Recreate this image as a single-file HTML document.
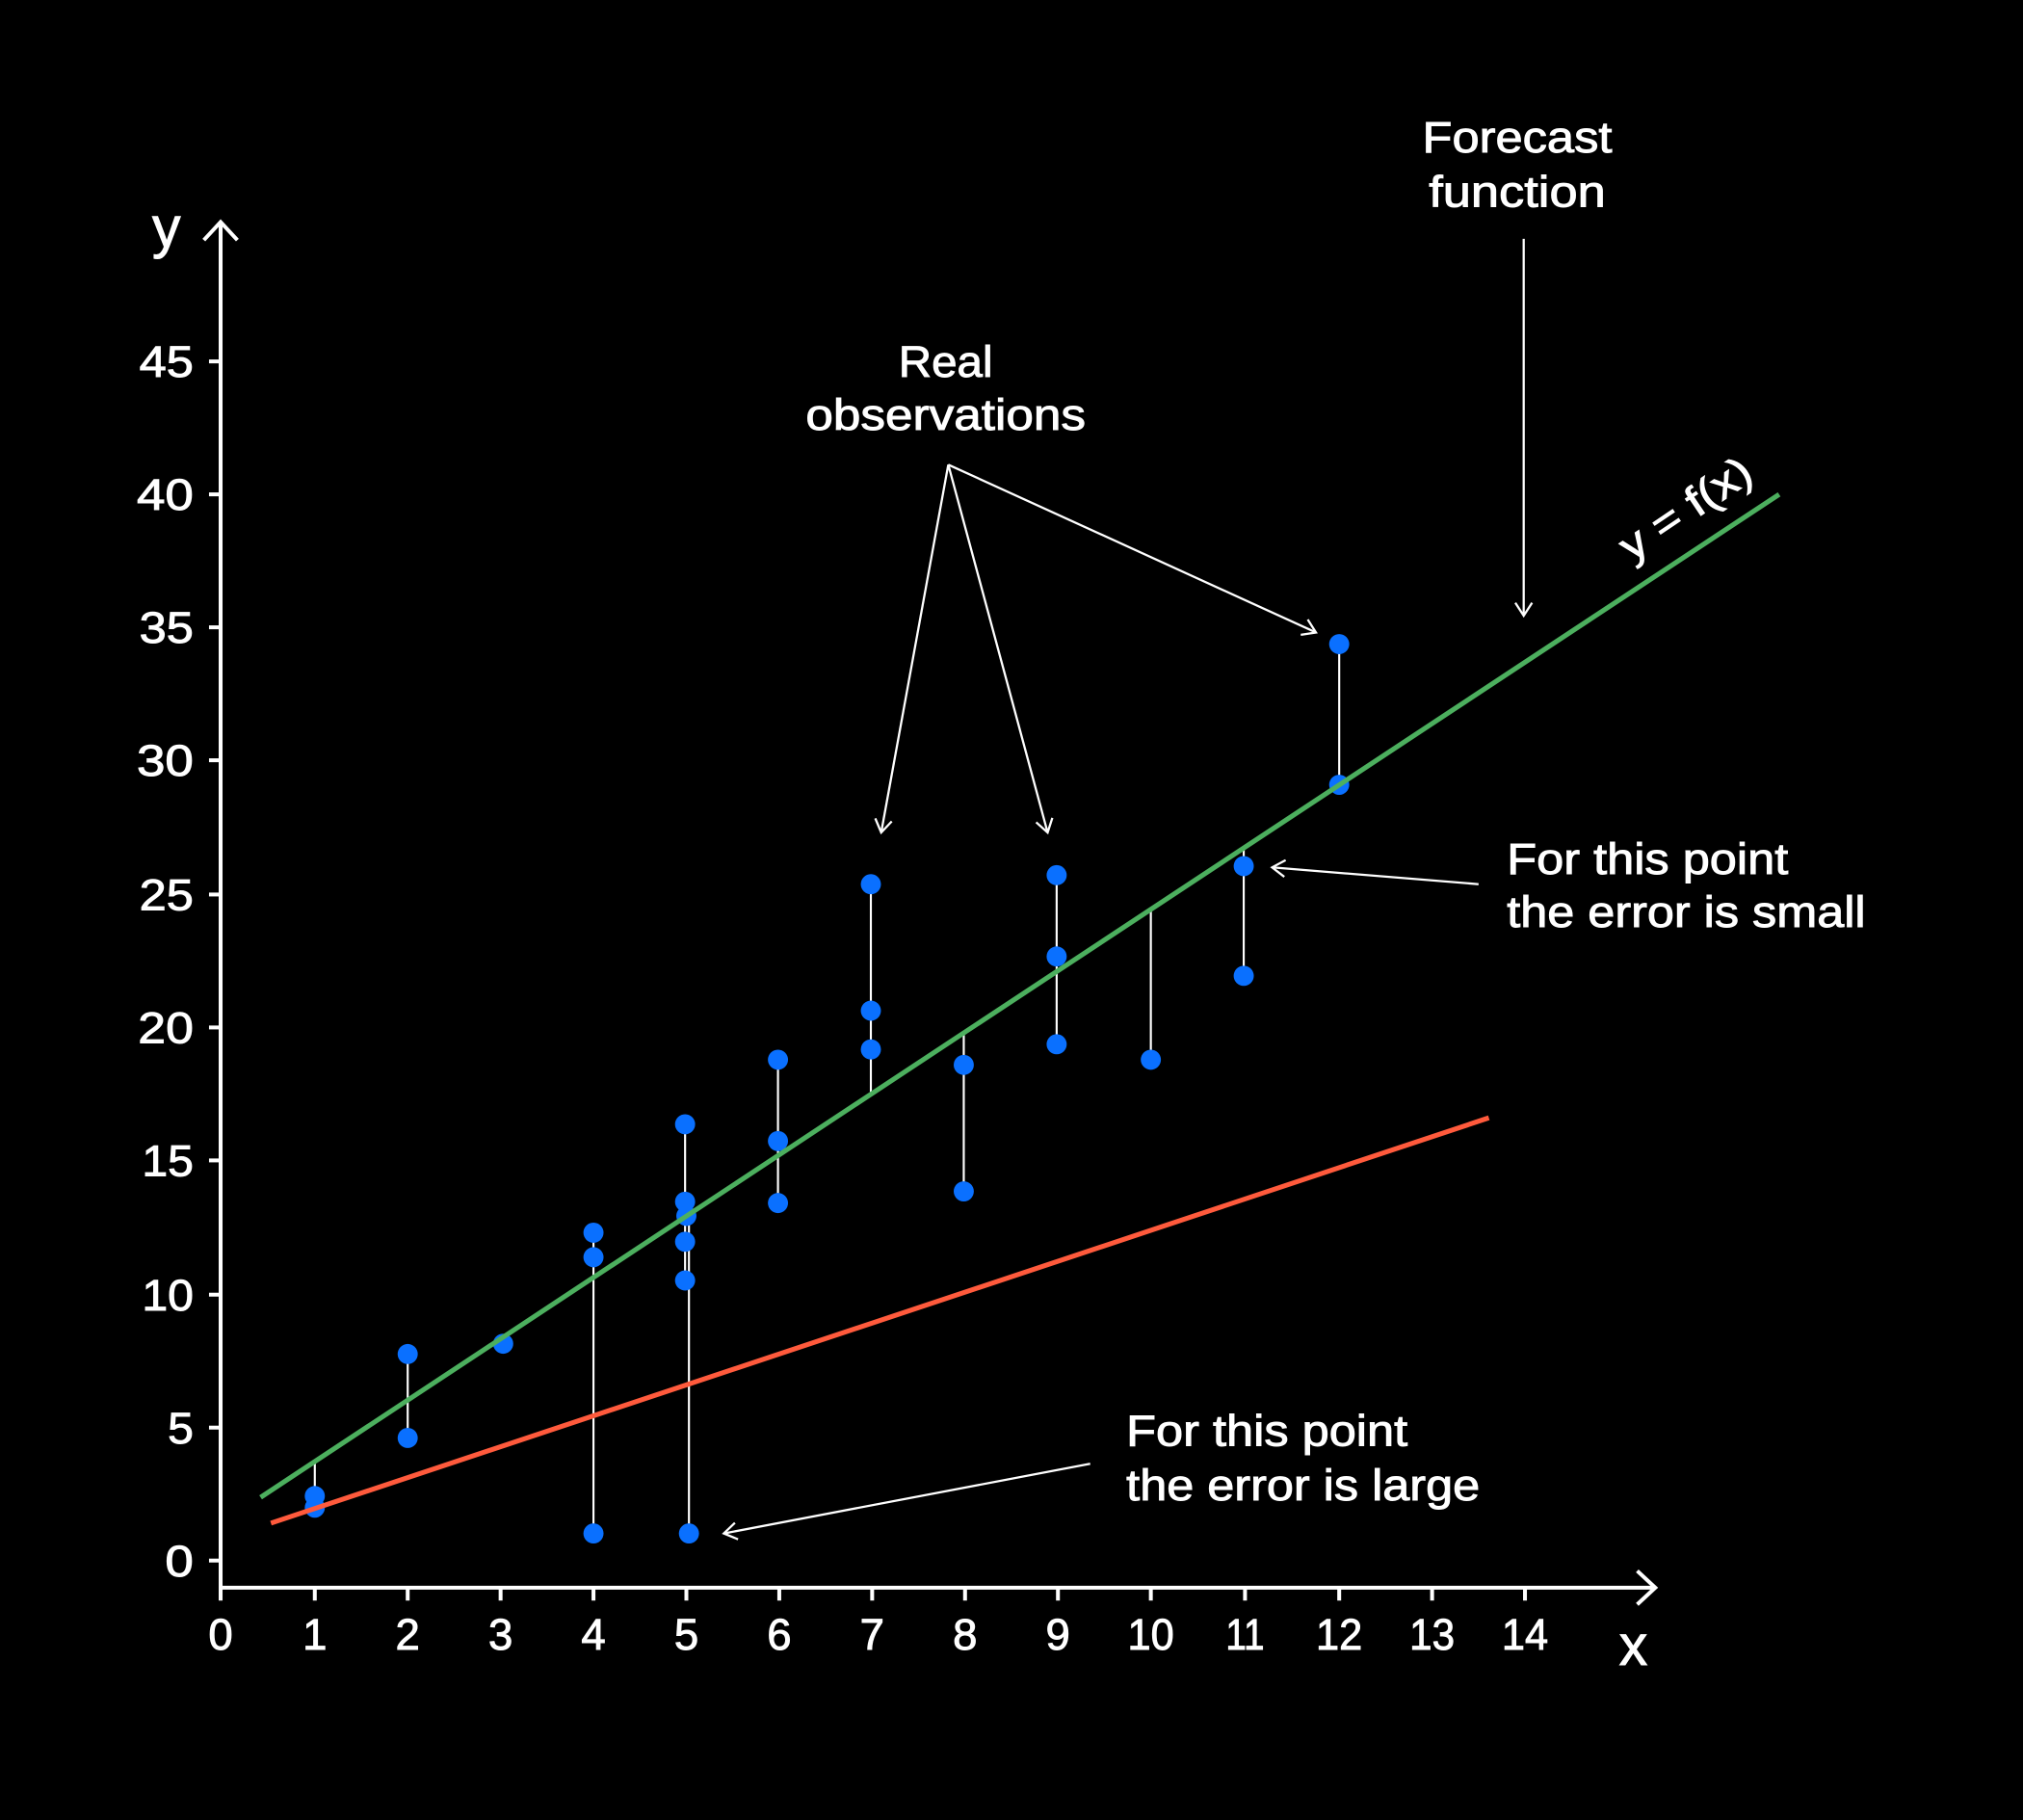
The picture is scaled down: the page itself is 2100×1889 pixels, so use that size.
<!DOCTYPE html>
<html>
<head>
<meta charset="utf-8">
<style>
  html, body { margin:0; padding:0; background:#000; }
  body { width:2100px; height:1889px; overflow:hidden; }
  svg { display:block; }
  text { font-family: "Liberation Sans", "DejaVu Sans", sans-serif; fill:#fff; stroke:#fff; stroke-width:0.7; }
</style>
</head>
<body>
<svg width="2100" height="1889" viewBox="0 0 1568 1410" preserveAspectRatio="none" xmlns="http://www.w3.org/2000/svg">
  <defs>
    <marker id="ah" markerUnits="userSpaceOnUse" markerWidth="30" markerHeight="30" refX="0" refY="0" viewBox="-15 -15 30 30" orient="auto">
      <path d="M-10,-6.5 L0,0 L-10,6.5" fill="none" stroke="#fff" stroke-width="1.7"/>
    </marker>
  </defs>
  <rect x="0" y="0" width="1568" height="1410" fill="#000"/>

  <!-- Axes -->
  <g stroke="#fff" stroke-width="3" fill="none" stroke-linecap="butt">
    <line x1="171" y1="1231.5" x2="171" y2="173"/>
    <line x1="169.5" y1="1230" x2="1282" y2="1230"/>
    <path d="M158,186 L171,172 L184,186" stroke-linejoin="miter"/>
    <path d="M1269,1217 L1283,1230 L1269,1243"/>
    <line x1="162" y1="1209" x2="171" y2="1209"/>
    <line x1="162" y1="1106" x2="171" y2="1106"/>
    <line x1="162" y1="1003" x2="171" y2="1003"/>
    <line x1="162" y1="899" x2="171" y2="899"/>
    <line x1="162" y1="796" x2="171" y2="796"/>
    <line x1="162" y1="693" x2="171" y2="693"/>
    <line x1="162" y1="589" x2="171" y2="589"/>
    <line x1="162" y1="486" x2="171" y2="486"/>
    <line x1="162" y1="383" x2="171" y2="383"/>
    <line x1="162" y1="280" x2="171" y2="280"/>
    <line x1="171" y1="1230" x2="171" y2="1240"/>
    <line x1="244" y1="1230" x2="244" y2="1240"/>
    <line x1="316" y1="1230" x2="316" y2="1240"/>
    <line x1="388" y1="1230" x2="388" y2="1240"/>
    <line x1="460" y1="1230" x2="460" y2="1240"/>
    <line x1="532" y1="1230" x2="532" y2="1240"/>
    <line x1="604" y1="1230" x2="604" y2="1240"/>
    <line x1="676" y1="1230" x2="676" y2="1240"/>
    <line x1="748" y1="1230" x2="748" y2="1240"/>
    <line x1="820" y1="1230" x2="820" y2="1240"/>
    <line x1="892" y1="1230" x2="892" y2="1240"/>
    <line x1="965" y1="1230" x2="965" y2="1240"/>
    <line x1="1038" y1="1230" x2="1038" y2="1240"/>
    <line x1="1110" y1="1230" x2="1110" y2="1240"/>
    <line x1="1182" y1="1230" x2="1182" y2="1240"/>
  </g>

  <!-- Y tick labels -->
  <g font-size="34" text-anchor="end">
    <text x="150" y="1221" textLength="22" lengthAdjust="spacingAndGlyphs">0</text>
    <text x="150" y="1118" textLength="20" lengthAdjust="spacingAndGlyphs">5</text>
    <text x="150" y="1015" textLength="40" lengthAdjust="spacingAndGlyphs">10</text>
    <text x="150" y="911" textLength="40" lengthAdjust="spacingAndGlyphs">15</text>
    <text x="150" y="808" textLength="43" lengthAdjust="spacingAndGlyphs">20</text>
    <text x="150" y="705" textLength="42" lengthAdjust="spacingAndGlyphs">25</text>
    <text x="150" y="601" textLength="44" lengthAdjust="spacingAndGlyphs">30</text>
    <text x="150" y="498" textLength="42" lengthAdjust="spacingAndGlyphs">35</text>
    <text x="150" y="395" textLength="44" lengthAdjust="spacingAndGlyphs">40</text>
    <text x="150" y="292" textLength="42" lengthAdjust="spacingAndGlyphs">45</text>
  </g>

  <!-- X tick labels -->
  <g font-size="34" text-anchor="middle">
    <text x="171" y="1278">0</text>
    <text x="244" y="1278">1</text>
    <text x="316" y="1278">2</text>
    <text x="388" y="1278">3</text>
    <text x="460" y="1278">4</text>
    <text x="532" y="1278">5</text>
    <text x="604" y="1278">6</text>
    <text x="676" y="1278">7</text>
    <text x="748" y="1278">8</text>
    <text x="820" y="1278">9</text>
    <text x="892" y="1278" textLength="36" lengthAdjust="spacingAndGlyphs">10</text>
    <text x="965" y="1278" textLength="30" lengthAdjust="spacingAndGlyphs">11</text>
    <text x="1038" y="1278" textLength="36" lengthAdjust="spacingAndGlyphs">12</text>
    <text x="1110" y="1278" textLength="35" lengthAdjust="spacingAndGlyphs">13</text>
    <text x="1182" y="1278" textLength="36" lengthAdjust="spacingAndGlyphs">14</text>
  </g>

  <!-- Axis labels -->
  <text x="129" y="191" font-size="44" text-anchor="middle">y</text>
  <text x="1266" y="1290" font-size="44" text-anchor="middle">x</text>

  <!-- Error lines -->
  <g stroke="#fff" stroke-width="1.6">
    <line x1="244" y1="1132" x2="244" y2="1168"/>
    <line x1="316" y1="1049" x2="316" y2="1114"/>
    <line x1="460" y1="955" x2="460" y2="1188"/>
    <line x1="531" y1="871" x2="531" y2="992"/>
    <line x1="534" y1="942" x2="534" y2="1188"/>
    <line x1="603" y1="821" x2="603" y2="932"/>
    <line x1="675" y1="685" x2="675" y2="847"/>
    <line x1="747" y1="800" x2="747" y2="923"/>
    <line x1="819" y1="678" x2="819" y2="809"/>
    <line x1="892" y1="705" x2="892" y2="821"/>
    <line x1="964" y1="657" x2="964" y2="756"/>
    <line x1="1038" y1="499" x2="1038" y2="608"/>
  </g>

  <!-- Dots -->
  <g fill="#0a70ff">
    <circle cx="244" cy="1159" r="7.8"/>
    <circle cx="244" cy="1168" r="7.8"/>
    <circle cx="316" cy="1049" r="7.8"/>
    <circle cx="316" cy="1114" r="7.8"/>
    <circle cx="390" cy="1041" r="7.8"/>
    <circle cx="460" cy="955" r="7.8"/>
    <circle cx="460" cy="974" r="7.8"/>
    <circle cx="460" cy="1188" r="7.8"/>
    <circle cx="531" cy="871" r="7.8"/>
    <circle cx="531" cy="931" r="7.8"/>
    <circle cx="532" cy="942" r="7.8"/>
    <circle cx="531" cy="962" r="7.8"/>
    <circle cx="531" cy="992" r="7.8"/>
    <circle cx="534" cy="1188" r="7.8"/>
    <circle cx="603" cy="821" r="7.8"/>
    <circle cx="603" cy="884" r="7.8"/>
    <circle cx="603" cy="932" r="7.8"/>
    <circle cx="675" cy="685" r="7.8"/>
    <circle cx="675" cy="783" r="7.8"/>
    <circle cx="675" cy="813" r="7.8"/>
    <circle cx="747" cy="825" r="7.8"/>
    <circle cx="747" cy="923" r="7.8"/>
    <circle cx="819" cy="678" r="7.8"/>
    <circle cx="819" cy="741" r="7.8"/>
    <circle cx="819" cy="809" r="7.8"/>
    <circle cx="892" cy="821" r="7.8"/>
    <circle cx="964" cy="671" r="7.8"/>
    <circle cx="964" cy="756" r="7.8"/>
    <circle cx="1038" cy="499" r="7.8"/>
    <circle cx="1038" cy="608" r="7.8"/>
  </g>

  <!-- Forecast lines -->
  <line x1="202" y1="1160" x2="1379" y2="383" stroke="#4caf5e" stroke-width="3.8"/>
  <line x1="210" y1="1180" x2="1154" y2="866" stroke="#ff5a3c" stroke-width="3.8"/>

  <!-- y = f(x) label -->
  <text transform="translate(1307,395) rotate(-34)" x="0" y="10" font-size="33" text-anchor="middle" textLength="116" lengthAdjust="spacingAndGlyphs">y = f(x)</text>

  <!-- Annotation arrows -->
  <g stroke="#fff" stroke-width="1.7" fill="none">
    <line x1="735" y1="360" x2="683" y2="645" marker-end="url(#ah)"/>
    <line x1="735" y1="360" x2="812" y2="645" marker-end="url(#ah)"/>
    <line x1="735" y1="360" x2="1020" y2="490" marker-end="url(#ah)"/>
    <line x1="1181" y1="185" x2="1181" y2="477" marker-end="url(#ah)"/>
    <line x1="1146" y1="685" x2="986" y2="672" marker-end="url(#ah)"/>
    <line x1="845" y1="1134" x2="561" y2="1188" marker-end="url(#ah)"/>
  </g>

  <!-- Annotation text -->
  <g font-size="34">
    <text x="733" y="292" text-anchor="middle" textLength="73" lengthAdjust="spacingAndGlyphs">Real</text>
    <text x="733" y="333" text-anchor="middle" textLength="217" lengthAdjust="spacingAndGlyphs">observations</text>
    <text x="1176" y="118" text-anchor="middle" textLength="147" lengthAdjust="spacingAndGlyphs">Forecast</text>
    <text x="1176" y="160" text-anchor="middle" textLength="137" lengthAdjust="spacingAndGlyphs">function</text>
    <text x="1168" y="677" textLength="218" lengthAdjust="spacingAndGlyphs">For this point</text>
    <text x="1168" y="718" textLength="278" lengthAdjust="spacingAndGlyphs">the error is small</text>
    <text x="873" y="1120" textLength="218" lengthAdjust="spacingAndGlyphs">For this point</text>
    <text x="873" y="1162" textLength="274" lengthAdjust="spacingAndGlyphs">the error is large</text>
  </g>
</svg>
</body>
</html>
